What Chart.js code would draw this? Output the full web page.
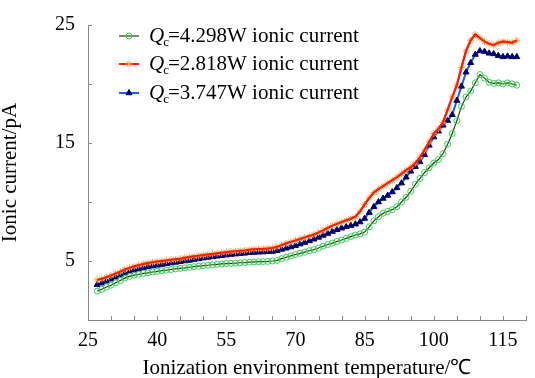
<!DOCTYPE html>
<html>
<head>
<meta charset="utf-8">
<script src="https://cdn.jsdelivr.net/npm/chart.js@4/dist/chart.umd.min.js"></script>
<style>
    html, body { margin: 0; padding: 0; background: #fff; overflow: hidden; }
    #chart { display: block; }
</style>
</head>
<body>
<canvas id="chart" width="535" height="378"></canvas>
<script>
// temperature readings, one per degree
const temps = [];
for (let t = 27; t <= 118; t++) temps.push(t);

const current4298 = [
    2.45, 2.6, 2.8, 2.95, 3.15, 3.35, 3.55, 3.7, 3.8, 3.88,
    3.95, 4.0, 4.07, 4.12, 4.18, 4.22, 4.28, 4.33, 4.38, 4.42,
    4.47, 4.52, 4.56, 4.6, 4.64, 4.68, 4.72, 4.75, 4.78, 4.8,
    4.82, 4.85, 4.87, 4.9, 4.92, 4.94, 4.95, 4.97, 5.0, 5.05,
    5.2, 5.32, 5.43, 5.55, 5.65, 5.75, 5.87, 5.97, 6.1, 6.25,
    6.4, 6.52, 6.65, 6.78, 6.92, 7.07, 7.2, 7.3, 7.45, 7.9,
    8.4, 8.75, 9.05, 9.2, 9.35, 9.6, 10.0, 10.4, 10.9, 11.5,
    12.0, 12.5, 12.9, 13.3, 13.6, 14.1, 14.9, 15.8, 16.9, 18.1,
    18.9, 19.4, 20.1, 20.8, 20.5, 20.15, 20.05, 20.1, 20.0, 20.1,
    20.0, 19.9
];
const current2818 = [
    3.4, 3.5, 3.62, 3.78, 3.95, 4.1, 4.28, 4.42, 4.55, 4.65,
    4.75, 4.83, 4.9, 4.95, 5.0, 5.05, 5.1, 5.15, 5.2, 5.27,
    5.33, 5.4, 5.45, 5.5, 5.55, 5.6, 5.65, 5.7, 5.75, 5.8,
    5.83, 5.87, 5.9, 5.95, 6.0, 6.02, 6.03, 6.05, 6.1, 6.2,
    6.35, 6.5, 6.62, 6.75, 6.87, 7.0, 7.12, 7.25, 7.42, 7.6,
    7.8, 8.0, 8.15, 8.3, 8.45, 8.58, 8.75, 9.2, 9.8, 10.35,
    10.8, 11.1, 11.35, 11.6, 11.85, 12.1, 12.4, 12.7, 12.95, 13.3,
    13.8, 14.4, 15.1, 15.8, 16.2, 16.75, 17.8, 18.9, 19.9, 21.4,
    22.8, 23.7, 24.2, 23.9, 23.6, 23.4, 23.3, 23.5, 23.6, 23.55,
    23.5, 23.7
];
const current3747 = [
    3.0, 3.12, 3.28, 3.45, 3.62, 3.8, 3.97, 4.1, 4.22, 4.32,
    4.42, 4.5, 4.57, 4.63, 4.7, 4.76, 4.82, 4.88, 4.94, 5.0,
    5.05, 5.12, 5.18, 5.24, 5.3, 5.35, 5.4, 5.45, 5.5, 5.55,
    5.58, 5.62, 5.65, 5.7, 5.72, 5.74, 5.76, 5.78, 5.8, 5.87,
    5.98, 6.08, 6.18, 6.3, 6.43, 6.56, 6.7, 6.84, 7.0, 7.17,
    7.33, 7.5, 7.65, 7.78, 7.9, 8.0, 8.12, 8.3, 8.6, 9.1,
    9.6, 10.0, 10.3, 10.55, 10.85, 11.2, 11.6, 12.1, 12.6, 13.0,
    13.4, 14.0, 14.8, 15.5, 16.0, 16.5, 16.9, 17.4, 18.6, 19.8,
    21.0, 21.8, 22.5, 22.8, 22.75, 22.6, 22.55, 22.4, 22.3, 22.35,
    22.3, 22.3
];

const powers = ['4.298', '2.818', '3.747'];
const xTicksShown = [25, 40, 55, 70, 85, 100, 115];
const yTicksShown = [5, 15, 25];

const serif = '"Liberation Serif", "Times New Roman", serif';
const axisGray = '#888888';

function pts(values) {
    return values.map((v, i) => ({ x: temps[i], y: v }));
}

// short tick marks pointing into the plot
const innerTicks = {
    id: 'innerTicks',
    beforeDatasetsDraw(chart) {
        const { ctx, chartArea, scales } = chart;
        ctx.save();
        ctx.strokeStyle = axisGray;
        ctx.lineWidth = 1;
        ctx.beginPath();
        scales.x.ticks.forEach(t => {
            const px = Math.round(scales.x.getPixelForValue(t.value)) + 0.5;
            ctx.moveTo(px, chartArea.bottom);
            ctx.lineTo(px, chartArea.bottom - 4);
        });
        scales.y.ticks.forEach(t => {
            const py = Math.round(scales.y.getPixelForValue(t.value)) + 0.5;
            ctx.moveTo(chartArea.left, py);
            ctx.lineTo(chartArea.left + 4, py);
        });
        ctx.stroke();
        ctx.restore();
    }
};

// legend with italic Q and subscript c
const qcLegend = {
    id: 'qcLegend',
    afterDraw(chart) {
        const ctx = chart.ctx;
        const rows = [36, 64, 93];
        powers.forEach((p, i) => {
            const ds = chart.data.datasets[i];
            const y = rows[i];
            ctx.save();
            ctx.strokeStyle = ds.borderColor;
            ctx.lineWidth = ds.borderWidth;
            ctx.beginPath();
            ctx.moveTo(119, y);
            ctx.lineTo(139, y);
            ctx.stroke();
            ctx.fillStyle = ds.pointBackgroundColor;
            ctx.strokeStyle = ds.pointBorderColor;
            ctx.lineWidth = ds.pointBorderWidth;
            Chart.helpers.drawPoint(ctx, {
                pointStyle: ds.pointStyle,
                radius: ds.pointRadius,
                rotation: 0,
                borderWidth: ds.pointBorderWidth
            }, 129, y);

            ctx.fillStyle = '#000';
            ctx.textBaseline = 'middle';
            let x = 149;
            ctx.font = 'italic 21px ' + serif;
            ctx.fillText('Q', x, y);
            x += ctx.measureText('Q').width - 1;
            ctx.font = '13px ' + serif;
            ctx.fillText('c', x, y + 7);
            x += ctx.measureText('c').width - 1;
            ctx.font = '21px ' + serif;
            ctx.fillText('=' + p + 'W ionic current', x, y);
            ctx.restore();
        });
    }
};

new Chart(document.getElementById('chart'), {
    type: 'line',
    data: {
        datasets: [
            {
                label: 'Qc=4.298W ionic current',
                data: pts(current4298),
                borderColor: '#243c06',
                borderWidth: 1.2,
                pointStyle: 'circle',
                pointRadius: 3,
                pointBorderWidth: 1,
                pointBorderColor: '#2ed14f',
                pointBackgroundColor: 'rgba(0,0,0,0)'
            },
            {
                label: 'Qc=2.818W ionic current',
                data: pts(current2818),
                borderColor: '#ff1a00',
                borderWidth: 2,
                pointStyle: 'star',
                pointRadius: 3.5,
                pointBorderWidth: 1,
                pointBorderColor: '#ffa04a',
                pointBackgroundColor: '#ffa04a'
            },
            {
                label: 'Qc=3.747W ionic current',
                data: pts(current3747),
                borderColor: '#1a5cff',
                borderWidth: 2,
                pointStyle: 'triangle',
                pointRadius: 3.5,
                pointBorderWidth: 1,
                pointBorderColor: '#00006e',
                pointBackgroundColor: '#00006e'
            },
            {
                // red line again, over its own star markers
                label: 'red line',
                data: pts(current2818),
                borderColor: '#ff1a00',
                borderWidth: 2,
                pointRadius: 0,
                order: -1
            }
        ]
    },
    options: {
        responsive: false,
        animation: false,
        devicePixelRatio: 1,
        layout: { padding: { top: 21, right: 0, left: 0, bottom: 0 } },
        elements: { line: { tension: 0 } },
        plugins: { legend: { display: false }, tooltip: { enabled: false } },
        scales: {
            x: {
                type: 'linear',
                min: 25,
                max: 120,
                afterFit(scale) { scale.height = 58; },
                grid: { display: false, drawTicks: false },
                border: { display: true, color: axisGray, width: 1 },
                ticks: {
                    stepSize: 5,
                    autoSkip: false,
                    maxRotation: 0,
                    padding: 9,
                    color: '#000',
                    font: { family: serif, size: 20 },
                    callback: v => xTicksShown.includes(v) ? String(v) : ''
                },
                title: {
                    display: true,
                    text: 'Ionization environment temperature/℃',
                    color: '#000',
                    font: { family: serif, size: 21, lineHeight: 1 },
                    padding: { top: 0, bottom: -1 }
                }
            },
            y: {
                min: 0,
                max: 25,
                afterFit(scale) { scale.width = 88; },
                grid: { display: false, drawTicks: false },
                border: { display: true, color: axisGray, width: 1 },
                ticks: {
                    stepSize: 5,
                    padding: 13,
                    color: '#000',
                    font: { family: serif, size: 20 },
                    callback: v => yTicksShown.includes(v) ? String(v) : ''
                },
                title: {
                    display: true,
                    text: 'Ionic current/pA',
                    color: '#000',
                    font: { family: serif, size: 21, lineHeight: 1 },
                    padding: { top: 0, bottom: 14 }
                }
            }
        }
    },
    plugins: [innerTicks, qcLegend]
});
</script>
</body>
</html>
